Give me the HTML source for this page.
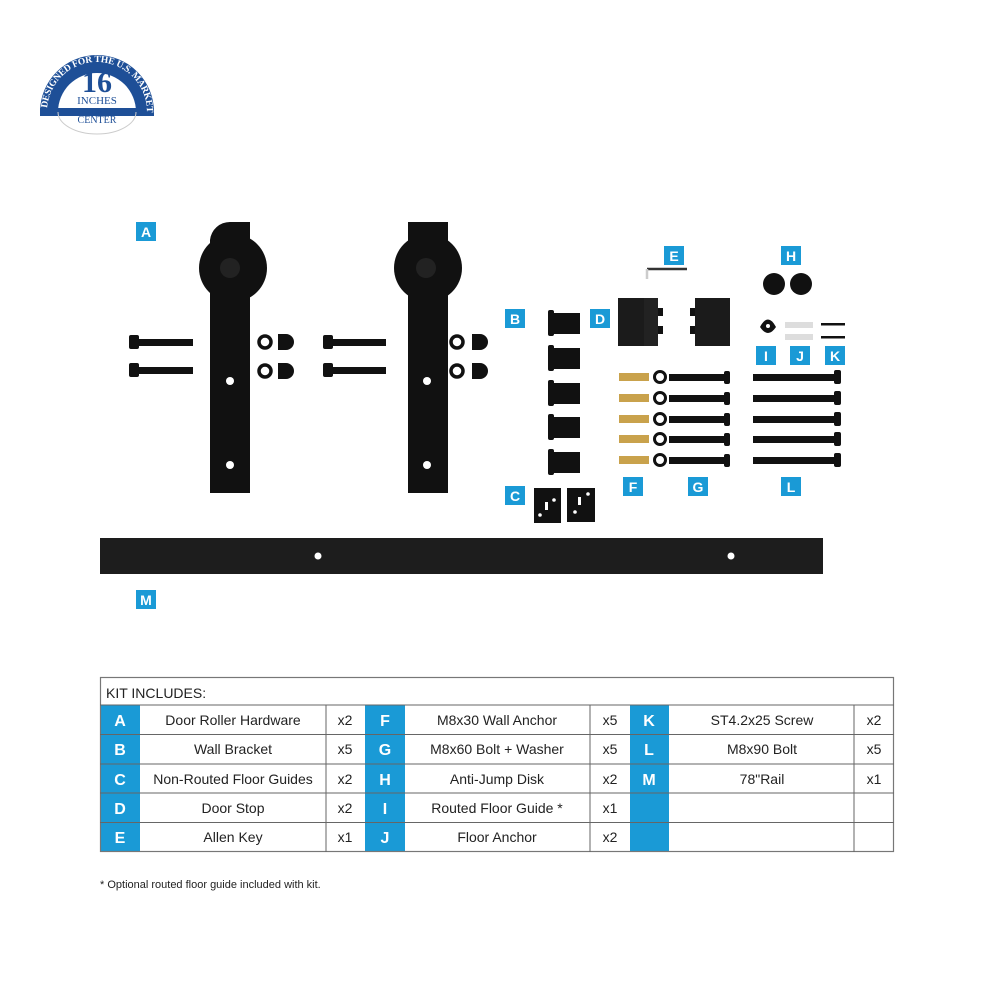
<!DOCTYPE html>
<html><head><meta charset="utf-8"><style>
html,body{margin:0;padding:0;background:#fff;width:1000px;height:1000px;overflow:hidden}
svg{display:block}
text{font-family:"Liberation Sans",sans-serif}
text.serif{font-family:"Liberation Serif",serif}
</style></head><body>
<svg width="1000" height="1000" viewBox="0 0 1000 1000" xmlns="http://www.w3.org/2000/svg">
<!-- logo -->
<g>
<path d="M40,112 A57,57 0 0 1 154,112 L136,112 A39,39 0 0 0 58,112 Z" fill="#1e4f97"/>
<path d="M40,112 L154,112" stroke="#1e4f97" stroke-width="8"/>
<path d="M58,112 A39,22 0 0 0 136,112" fill="none" stroke="#ccc" stroke-width="1"/>
<path id="arc" d="M47,112 A50,50 0 0 1 147,112" fill="none"/>
<text class="serif" font-size="9.5" font-weight="bold" fill="#fff" letter-spacing="-0.2"><textPath href="#arc" startOffset="4">DESIGNED FOR THE U.S. MARKET</textPath></text>
<text class="serif" x="97" y="92" font-size="30" font-weight="bold" fill="#1e4f97" text-anchor="middle">16</text>
<text class="serif" x="97" y="104" font-size="11" fill="#1e4f97" text-anchor="middle">INCHES</text>
<text class="serif" x="97" y="114" font-size="8" fill="#1e4f97" text-anchor="middle">ON</text>
<text class="serif" x="97" y="123" font-size="10" fill="#1e4f97" text-anchor="middle">CENTER</text>
</g>

<!-- roller hardware -->
<g fill="#111">
<circle cx="233" cy="268" r="34"/>
<path d="M210,493 V240 A20,20 0 0 1 230,222 H250 V493 Z"/>
<circle cx="230" cy="268" r="10" fill="#222"/>
<circle cx="230" cy="381" r="4" fill="#fff"/><circle cx="230" cy="465" r="4" fill="#fff"/>
<circle cx="428" cy="268" r="34"/>
<rect x="408" y="222" width="40" height="271"/>
<circle cx="426" cy="268" r="10" fill="#222"/>
<circle cx="427" cy="381" r="4" fill="#fff"/><circle cx="427" cy="465" r="4" fill="#fff"/>
<rect x="129" y="335" width="10" height="14" rx="2"/><rect x="137" y="339" width="56" height="7"/>
<rect x="129" y="363" width="10" height="14" rx="2"/><rect x="137" y="367" width="56" height="7"/>
<rect x="323" y="335" width="10" height="14" rx="2"/><rect x="331" y="339" width="55" height="7"/>
<rect x="323" y="363" width="10" height="14" rx="2"/><rect x="331" y="367" width="55" height="7"/>
<circle cx="265" cy="342" r="6" fill="none" stroke="#111" stroke-width="3.5"/><circle cx="265" cy="371" r="6" fill="none" stroke="#111" stroke-width="3.5"/>
<path d="M278,334 h8 a8,8 0 0 1 0,16 h-8 z"/><path d="M278,363 h8 a8,8 0 0 1 0,16 h-8 z"/>
<circle cx="457" cy="342" r="6" fill="none" stroke="#111" stroke-width="3.5"/><circle cx="457" cy="371" r="6" fill="none" stroke="#111" stroke-width="3.5"/>
<path d="M472,334 h8 a8,8 0 0 1 0,16 h-8 z"/><path d="M472,363 h8 a8,8 0 0 1 0,16 h-8 z"/>
<g id="wb"><rect x="548" y="310" width="6" height="26" rx="2"/><rect x="552" y="313" width="28" height="21"/></g>
<use href="#wb" y="35"/><use href="#wb" y="70"/><use href="#wb" y="104"/><use href="#wb" y="139"/>
<rect x="534" y="488" width="27" height="35"/><rect x="567" y="488" width="28" height="34"/>
<circle cx="540" cy="515" r="1.8" fill="#fff"/><circle cx="554" cy="500" r="1.8" fill="#fff"/><rect x="545" y="502" width="3" height="8" fill="#fff"/>
<circle cx="588" cy="494" r="1.8" fill="#fff"/><circle cx="575" cy="512" r="1.8" fill="#fff"/><rect x="578" y="497" width="3" height="8" fill="#fff"/>
<rect x="618" y="298" width="40" height="48" fill="#1b1b1b"/><rect x="644" y="298" width="14" height="48" fill="#222"/>
<rect x="658" y="308" width="5" height="8"/><rect x="658" y="326" width="5" height="8"/>
<rect x="695" y="298" width="35" height="48" fill="#1b1b1b"/><rect x="690" y="308" width="5" height="8"/><rect x="690" y="326" width="5" height="8"/>
<path d="M647,269 h40" stroke="#333" stroke-width="2.5"/><path d="M647,269 v10" stroke="#ccc" stroke-width="2.5"/>
<circle cx="774" cy="284" r="11"/><circle cx="801" cy="284" r="11"/>
<path d="M760,327 q8,-15 16,0 q-8,12 -16,0z"/><circle cx="768" cy="326" r="2" fill="#fff"/>
<rect x="785" y="322" width="28" height="6" fill="#ddd"/><rect x="785" y="334" width="28" height="6" fill="#ddd"/>
<rect x="821" y="323" width="24" height="2.5"/><rect x="821" y="336" width="24" height="2.5"/>
<g id="fg">
<rect x="619" y="373" width="30" height="8" fill="#c9a24c"/>
<circle cx="660" cy="377" r="5.5" fill="none" stroke="#111" stroke-width="3"/>
<rect x="669" y="374" width="58" height="7"/><rect x="724" y="371" width="6" height="13" rx="2"/>
<rect x="753" y="374" width="82" height="7"/><rect x="834" y="370" width="7" height="14" rx="2"/>
</g>
<use href="#fg" y="21"/><use href="#fg" y="42"/><use href="#fg" y="62"/><use href="#fg" y="83"/>
<rect x="100" y="538" width="723" height="36" fill="#1d1d1d"/>
<circle cx="318" cy="556" r="3.5" fill="#fff"/><circle cx="731" cy="556" r="3.5" fill="#fff"/>
</g>

<g font-size="14" font-weight="bold" fill="#fff" text-anchor="middle">
<rect x="136" y="222" width="20" height="19" fill="#1a9ad6"/><text x="146" y="237">A</text>
<rect x="505" y="309" width="20" height="19" fill="#1a9ad6"/><text x="515" y="324">B</text>
<rect x="590" y="309" width="20" height="19" fill="#1a9ad6"/><text x="600" y="324">D</text>
<rect x="664" y="246" width="20" height="19" fill="#1a9ad6"/><text x="674" y="261">E</text>
<rect x="781" y="246" width="20" height="19" fill="#1a9ad6"/><text x="791" y="261">H</text>
<rect x="756" y="346" width="20" height="19" fill="#1a9ad6"/><text x="766" y="361">I</text>
<rect x="790" y="346" width="20" height="19" fill="#1a9ad6"/><text x="800" y="361">J</text>
<rect x="825" y="346" width="20" height="19" fill="#1a9ad6"/><text x="835" y="361">K</text>
<rect x="505" y="486" width="20" height="19" fill="#1a9ad6"/><text x="515" y="501">C</text>
<rect x="623" y="477" width="20" height="19" fill="#1a9ad6"/><text x="633" y="492">F</text>
<rect x="688" y="477" width="20" height="19" fill="#1a9ad6"/><text x="698" y="492">G</text>
<rect x="781" y="477" width="20" height="19" fill="#1a9ad6"/><text x="791" y="492">L</text>
<rect x="136" y="590" width="20" height="19" fill="#1a9ad6"/><text x="146" y="605">M</text>
</g>

<g>
<rect x="100" y="705" width="40" height="147" fill="#1a9ad6"/>
<rect x="365" y="705" width="40" height="147" fill="#1a9ad6"/>
<rect x="630" y="705" width="39" height="147" fill="#1a9ad6"/>
<rect x="100.5" y="677.5" width="793" height="174" fill="none" stroke="#777" stroke-width="1.2"/>
<g stroke="#666" stroke-width="1">
<line x1="100" y1="705" x2="894" y2="705"/>
<line x1="100" y1="734.5" x2="894" y2="734.5"/>
<line x1="100" y1="764" x2="894" y2="764"/>
<line x1="100" y1="793" x2="894" y2="793"/>
<line x1="100" y1="822.5" x2="894" y2="822.5"/>
<line x1="326" y1="705" x2="326" y2="852"/>
<line x1="590" y1="705" x2="590" y2="852"/>
<line x1="854" y1="705" x2="854" y2="852"/>
</g>
<text x="106" y="698" font-size="14" fill="#222">KIT INCLUDES:</text>
<g font-size="16" font-weight="bold" fill="#fff" text-anchor="middle">
<text x="120" y="726">A</text><text x="120" y="755">B</text><text x="120" y="785">C</text><text x="120" y="814">D</text><text x="120" y="843">E</text>
<text x="385" y="726">F</text><text x="385" y="755">G</text><text x="385" y="785">H</text><text x="385" y="814">I</text><text x="385" y="843">J</text>
<text x="649" y="726">K</text><text x="649" y="755">L</text><text x="649" y="785">M</text>
</g>
<g font-size="14" fill="#222" text-anchor="middle">
<text x="233" y="725">Door Roller Hardware</text><text x="233" y="754">Wall Bracket</text><text x="233" y="784">Non-Routed Floor Guides</text><text x="233" y="813">Door Stop</text><text x="233" y="842">Allen Key</text>
<text x="345" y="725">x2</text><text x="345" y="754">x5</text><text x="345" y="784">x2</text><text x="345" y="813">x2</text><text x="345" y="842">x1</text>
<text x="497" y="725">M8x30 Wall Anchor</text><text x="497" y="754">M8x60 Bolt + Washer</text><text x="497" y="784">Anti-Jump Disk</text><text x="497" y="813">Routed Floor Guide *</text><text x="497" y="842">Floor Anchor</text>
<text x="610" y="725">x5</text><text x="610" y="754">x5</text><text x="610" y="784">x2</text><text x="610" y="813">x1</text><text x="610" y="842">x2</text>
<text x="762" y="725">ST4.2x25 Screw</text><text x="762" y="754">M8x90 Bolt</text><text x="762" y="784">78"Rail</text>
<text x="874" y="725">x2</text><text x="874" y="754">x5</text><text x="874" y="784">x1</text>
</g>
<text x="100" y="888" font-size="11" fill="#222">* Optional routed floor guide included with kit.</text>
</g>
</svg>
</body></html>
